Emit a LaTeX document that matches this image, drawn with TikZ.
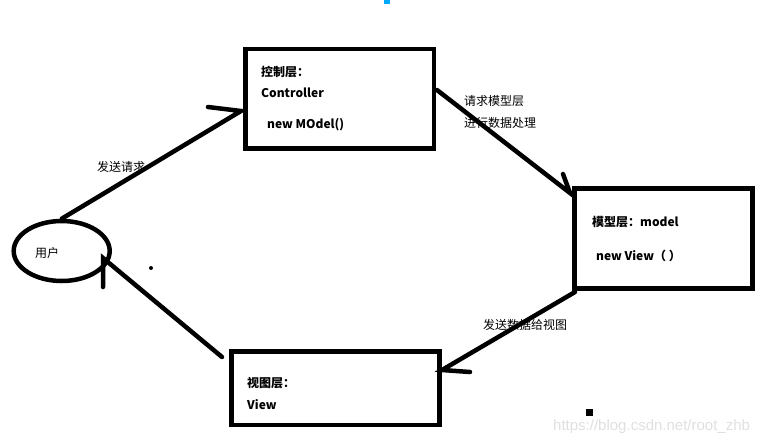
\documentclass[tikz,border=0pt]{standalone}
\usepackage{fontspec}
\setmainfont{Noto Sans CJK SC}
\newfontfamily\wmfont{Liberation Sans}
\usetikzlibrary{shapes.geometric}
\definecolor{pinblue}{RGB}{0,168,255}
\tikzset{
  pen/.style={line width=4.5pt, line cap=round},
  layer/.style={draw, line width=4.8pt, inner sep=0pt},
  txt/.style={anchor=west, inner sep=0pt, font=\fontsize{12}{14}\selectfont\bfseries},
  lbl/.style={anchor=west, inner sep=0pt, font=\fontsize{12}{14}\selectfont},
}

\begin{document}
\begin{tikzpicture}[x=1pt, y=-1pt]
		\useasboundingbox (0,0) rectangle (769,445);

		%%% Layers
		\node[layer, minimum width=188.5, minimum height=99.5] (ctrl) at (339.75, 98.75) {};
		\node[layer, minimum width=178.5, minimum height=100] (model) at (663.5, 238.5) {};
		\node[layer, minimum width=208, minimum height=73.5] (view) at (335.5, 388.25) {};
		\node[draw, ellipse, line width=4.5pt, minimum width=96, minimum height=60] (user) at (61.7, 251) {};

		%%% Texts
		\node[txt] (ctrlt1) at (261, 72) {控制层：};
		\node[txt] (ctrlt2) at (261, 93) {Controller};
		\node[txt] (ctrlt3) at (267, 125) {new MOdel()};
		\node[txt] (modelt1) at (592, 222) {模型层：model};
		\node[txt] (modelt2) at (596, 256) {new View（ ）};
		\node[txt] (viewt1) at (247, 383) {视图层：};
		\node[txt] (viewt2) at (247, 405) {View};
		\node[lbl] (usert) at (35, 253) {用户};

		%%% Arrow ends
		\coordinate (ctrlout) at (437, 90);
		\coordinate (ctrlin) at (241, 111);
		\coordinate (modelin) at (570, 193);
		\coordinate (modelout) at (575, 292);
		\coordinate (viewin) at (442, 370);
		\coordinate (viewout) at (222, 357);
		\coordinate (userin) at (103, 258);

		%%% Arrows
		\draw[pen] (user.north) -- (ctrlin) -- (208, 107);
		\draw[pen] (ctrlout) -- (modelin) -- (563, 174);
		\draw[pen] (modelout) -- (viewin) -- (470, 372);
		\draw[pen] (viewout) -- (userin) -- (103, 287);

		%%% Arrow labels
		\node[lbl] (send) at (97, 167) {发送请求};
		\node[lbl] (ask1) at (464, 101) {请求模型层};
		\node[lbl] (ask2) at (464, 123) {进行数据处理};
		\node[lbl] (back) at (483, 325) {发送数据给视图};

		%%% Stray marks
		\fill[pinblue] (384, 0) rectangle (390, 4);
		\fill[black] (151, 268) circle (2pt);
		\fill[black] (586, 409) rectangle (593, 416);
		\node[anchor=west, inner sep=0pt, text=black!12, font=\wmfont\fontsize{15}{17}\selectfont] (mark) at (553, 427) {https://blog.csdn.net/root\_zhb};
\end{tikzpicture}
\end{document}
